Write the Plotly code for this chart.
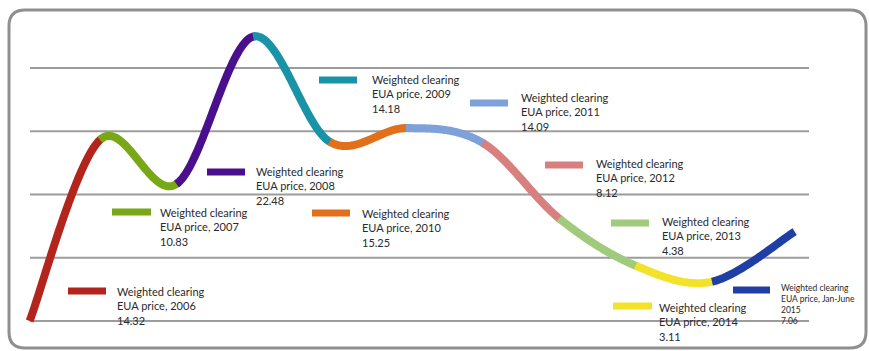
import numpy as np
import plotly.graph_objects as go

# Weighted clearing EUA price per period (EUR/t)
periods = ["2006", "2007", "2008", "2009", "2010", "2011", "2012", "2013", "2014", "Jan-June 2015"]
period_end = [2006, 2007, 2008, 2009, 2010, 2011, 2012, 2013, 2014, 2015.08]
prices = [14.32, 10.83, 22.48, 14.18, 15.25, 14.09, 8.12, 4.38, 3.11, 7.06]
curve_start_x = 2005.08
curve_start_y = 0.0
gridline_values = [0, 5, 10, 15, 20]

colors = ["#b3241d", "#78a815", "#4a0f8c", "#1893a8", "#e2701a",
          "#7fa1d9", "#d88080", "#a0ca7c", "#f2e32a", "#1f3ea6"]

W, H = 869, 351

# anchor points of the smooth curve
P = np.column_stack([[curve_start_x] + period_end, [curve_start_y] + prices]).astype(float)


def bezier_segment(i, n=60):
    """Cubic Catmull-Rom style segment between anchor i and i+1."""
    p0, p1 = P[i], P[i + 1]
    prev = P[i - 1] if i > 0 else P[i]
    nxt = P[i + 2] if i + 2 < len(P) else P[i + 1]
    c1 = p0 + (p1 - prev) / 6.0
    c2 = p1 - (nxt - p0) / 6.0
    t = np.linspace(0, 1, n)[:, None]
    pts = ((1 - t) ** 3) * p0 + 3 * ((1 - t) ** 2) * t * c1 + 3 * (1 - t) * t ** 2 * c2 + t ** 3 * p1
    return pts


segments = [bezier_segment(i) for i in range(len(periods))]

fig = go.Figure()
for i, (name, col) in enumerate(zip(periods, colors)):
    pts = segments[i]
    # carry the stroke a couple of samples into the next piece so joins stay closed
    if i + 1 < len(segments):
        pts = np.vstack([pts, segments[i + 1][1:3]])
    fig.add_trace(go.Scatter(x=pts[:, 0], y=pts[:, 1], mode="lines", name=name,
                             line=dict(color=col, width=8, simplify=False),
                             hoverinfo="skip", showlegend=False))

shapes = []
# horizontal grid
for g in gridline_values:
    shapes.append(dict(type="line", xref="x", yref="y", x0=2005.085, x1=2015.268,
                       y0=g, y1=g, line=dict(color="#9c9c9c", width=2), layer="below"))


def px(x):
    return x / W


def py(y):
    return 1 - y / H


# rounded frame
x0, x1, y0, y1, r = 9, 866, 10, 348, 16
path = (f"M {px(x0 + r)} {py(y0)} L {px(x1 - r)} {py(y0)} "
        f"Q {px(x1)} {py(y0)} {px(x1)} {py(y0 + r)} L {px(x1)} {py(y1 - r)} "
        f"Q {px(x1)} {py(y1)} {px(x1 - r)} {py(y1)} L {px(x0 + r)} {py(y1)} "
        f"Q {px(x0)} {py(y1)} {px(x0)} {py(y1 - r)} L {px(x0)} {py(y0 + r)} "
        f"Q {px(x0)} {py(y0)} {px(x0 + r)} {py(y0)} Z")
shapes.append(dict(type="path", xref="paper", yref="paper", path=path,
                   line=dict(color="#8f8f8f", width=3), layer="below"))

# label placement: swatch x0, x1, y ; text left, text top
label_pos = [
    (68, 106, 291, 115, 283),
    (112, 151, 212, 158, 204),
    (207, 245, 172, 254, 163),
    (319, 357, 80, 370, 71),
    (312, 350, 213, 360, 205),
    (470, 508, 103, 519, 89),
    (545, 583, 165, 594, 155),
    (611, 649, 223, 660, 213),
    (613, 652, 306, 657, 299),
    (733, 770, 290, 779, 281),
]

annotations = []
for (sx0, sx1, sy, tx, ty), name, col, val in zip(label_pos, periods, colors, prices):
    shapes.append(dict(type="line", xref="paper", yref="paper",
                       x0=px(sx0), x1=px(sx1), y0=py(sy), y1=py(sy),
                       line=dict(color=col, width=7)))
    if name.startswith("Jan"):
        text = f"Weighted clearing<br>EUA price, Jan-June<br>2015<br>{val:.2f}"
        size = 8.5
    else:
        text = f"Weighted clearing<br>EUA price, {name}<br>{val:.2f}"
        size = 11
    annotations.append(dict(xref="paper", yref="paper", x=px(tx), y=py(ty),
                            xanchor="left", yanchor="top", align="left",
                            showarrow=False, text=text,
                            font=dict(family="Lato", size=size, color="#2a2a2a")))

fig.update_layout(
    width=W, height=H,
    margin=dict(l=0, r=0, t=0, b=0),
    paper_bgcolor="white", plot_bgcolor="white",
    xaxis=dict(range=[2004.693, 2016.052], visible=False, fixedrange=True),
    yaxis=dict(range=[-2.372, 25.375], visible=False, fixedrange=True),
    shapes=shapes, annotations=annotations,
    showlegend=False,
)

fig.write_html("out.html")
